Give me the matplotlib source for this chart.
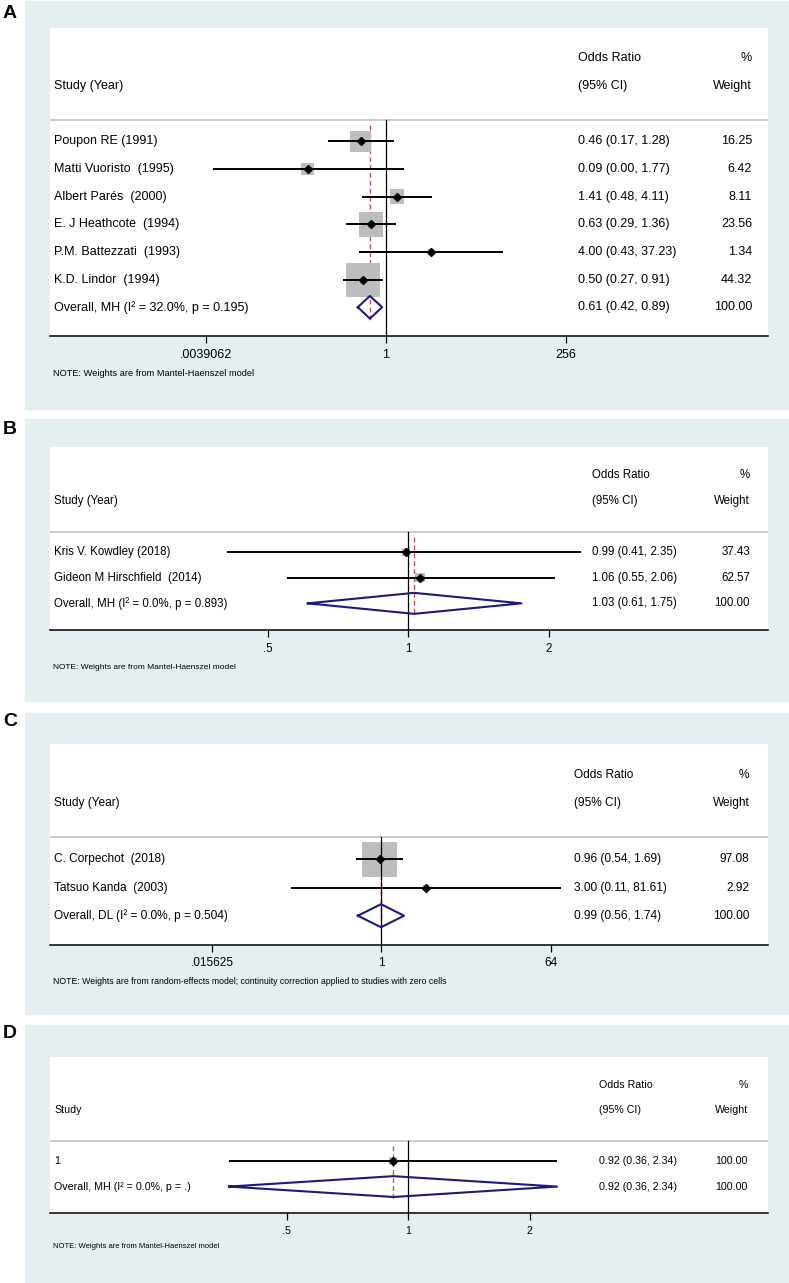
import numpy as np
import matplotlib.pyplot as plt
from matplotlib.ticker import NullLocator

plt.rcParams['font.family'] = ['Liberation Sans', 'DejaVu Sans']

W, H = 789, 1283

# ---- panel A
a_studies = ["Poupon RE (1991)", "Matti Vuoristo  (1995)", "Albert Parés  (2000)",
             "E. J Heathcote  (1994)", "P.M. Battezzati  (1993)", "K.D. Lindor  (1994)"]
a_or = [0.46, 0.09, 1.41, 0.63, 4.00, 0.50]
a_lo = [0.17, 0.0049, 0.48, 0.29, 0.43, 0.27]
a_hi = [1.28, 1.77, 4.11, 1.36, 37.23, 0.91]
a_wt = [16.25, 6.42, 8.11, 23.56, 1.34, 44.32]
a_overall = [0.61, 0.42, 0.89]
a_overall_label = "Overall, MH (I² = 32.0%, p = 0.195)"
a_ticks = [2 ** -8, 1, 256]
a_ticklabels = [".0039062", "1", "256"]
a_note = "NOTE: Weights are from Mantel-Haenszel model"

# ---- panel B
b_studies = ["Kris V. Kowdley (2018)", "Gideon M Hirschfield  (2014)"]
b_or = [0.99, 1.06]
b_lo = [0.41, 0.55]
b_hi = [2.35, 2.06]
b_wt = [37.43, 62.57]
b_overall = [1.03, 0.61, 1.75]
b_overall_label = "Overall, MH (I² = 0.0%, p = 0.893)"
b_ticks = [0.5, 1, 2]
b_ticklabels = [".5", "1", "2"]
b_note = "NOTE: Weights are from Mantel-Haenszel model"

# ---- panel C
c_studies = ["C. Corpechot  (2018)", "Tatsuo Kanda  (2003)"]
c_or = [0.96, 3.00]
c_lo = [0.54, 0.11]
c_hi = [1.69, 81.61]
c_wt = [97.08, 2.92]
c_overall = [0.99, 0.56, 1.74]
c_overall_label = "Overall, DL (I² = 0.0%, p = 0.504)"
c_ticks = [2 ** -6, 1, 64]
c_ticklabels = [".015625", "1", "64"]
c_note = ("NOTE: Weights are from random-effects model; continuity correction "
          "applied to studies with zero cells")

# ---- panel D
d_studies = ["1"]
d_or = [0.92]
d_lo = [0.36]
d_hi = [2.34]
d_wt = [100.00]
d_overall = [0.92, 0.36, 2.34]
d_overall_label = "Overall, MH (I² = 0.0%, p = .)"
d_ticks = [0.5, 1, 2]
d_ticklabels = [".5", "1", "2"]
d_note = "NOTE: Weights are from Mantel-Haenszel model"

BG = '#e5eef1'
BOX = '#bdbdbd'
NAVY = '#1a1a80'
RED = '#c8505a'

fig = plt.figure(figsize=(W / 100, H / 100), dpi=100)


def fx(x):
    return x / W


def fy(y):
    return 1 - y / H


def panel(letter, studies, ors, los, his, wts, overall, overall_label, ticks, ticklabels,
          note, header, bg, white, xl, fs, or_x, wt_x, maxbox, note_fs, note_y, letter_y):
    # grey frame behind the plot
    fig.patches.append(plt.Rectangle((fx(25), fy(bg[1])), fx(789 - 25), (bg[1] - bg[0]) / H,
                                     transform=fig.transFigure, color=BG, zorder=-5))
    fig.text(fx(10), fy(letter_y), letter, fontsize=14, fontweight='bold',
             ha='center', va='center')

    ax = fig.add_axes([fx(50), fy(white[1]), fx(768 - 50), (white[1] - white[0]) / H])
    ax.set_zorder(2)
    ax.set_facecolor('white')
    n = len(studies) + 1
    ax.set_xscale('log', base=2)
    ax.set_xlim(2 ** xl[0], 2 ** xl[1])
    ax.set_ylim(n + 0.04, -4.1)
    ax.set_yticks([])
    ax.xaxis.set_minor_locator(NullLocator())
    ax.set_xticks(ticks, ticklabels)
    ax.tick_params(axis='x', length=5, width=0.9, labelsize=fs, pad=4)
    for s in ['top', 'left', 'right']:
        ax.spines[s].set_visible(False)
    ax.spines['bottom'].set_linewidth(1.1)

    tr = ax.get_yaxis_transform()
    # header
    ax.text(0.006, -2, header, transform=tr, fontsize=fs, va='center')
    ax.text(or_x, -3, "Odds Ratio", transform=tr, fontsize=fs, va='center')
    ax.text(or_x, -2, "(95% CI)", transform=tr, fontsize=fs, va='center')
    ax.text(wt_x, -3, "%", transform=tr, fontsize=fs, va='center', ha='right')
    ax.text(wt_x, -2, "Weight", transform=tr, fontsize=fs, va='center', ha='right')
    ax.axhline(-0.78, color='#c8c8c8', lw=1.3)

    ys = np.arange(len(studies))
    side = maxbox * np.sqrt(np.array(wts) / max(wts)) * 0.72
    ax.scatter(ors, ys, s=side ** 2, marker='s', color=BOX, zorder=2, linewidths=0)
    ax.hlines(ys, los, his, color='black', lw=1.4, zorder=3)
    ax.plot(ors, ys, 'D', color='black', ms=4, zorder=4)
    for y, name, o, lo, hi, w in zip(ys, studies, ors, los, his, wts):
        ax.text(0.006, y, name, transform=tr, fontsize=fs, va='center')
        ax.text(or_x, y, f"{o:.2f} ({lo:.2f}, {hi:.2f})", transform=tr, fontsize=fs, va='center')
        ax.text(wt_x, y, f"{w:.2f}", transform=tr, fontsize=fs, va='center', ha='right')

    # overall
    yo = n - 1
    est, lo, hi = overall
    ax.plot([1, 1], [-0.78, n + 0.1], color='black', lw=0.9, zorder=5)
    ax.plot([est, est], [-0.6, yo + 0.5], color=RED, lw=1.0, dashes=(3.5, 2.2), zorder=1)
    ax.plot([lo, est, hi, est, lo], [yo, yo - 0.41, yo, yo + 0.41, yo],
            color=NAVY, lw=1.5, zorder=6)
    ax.text(0.006, yo, overall_label, transform=tr, fontsize=fs, va='center')
    ax.text(or_x, yo, f"{est:.2f} ({lo:.2f}, {hi:.2f})", transform=tr, fontsize=fs, va='center')
    ax.text(wt_x, yo, "100.00", transform=tr, fontsize=fs, va='center', ha='right')

    fig.text(fx(53), fy(note_y), note, fontsize=note_fs, va='center')


panel("A", a_studies, a_or, a_lo, a_hi, a_wt, a_overall, a_overall_label, a_ticks,
      a_ticklabels, a_note, "Study (Year)", (1, 409), (28, 336), (-14.93, 16.98),
      9, 0.735, 0.978, 34, 6.7, 373, 13)
panel("B", b_studies, b_or, b_lo, b_hi, b_wt, b_overall, b_overall_label, b_ticks,
      b_ticklabels, b_note, "Study (Year)", (419, 701), (447, 630), (-2.548, 2.562),
      8.3, 0.755, 0.975, 9.5, 6.0, 667, 429)
panel("C", c_studies, c_or, c_lo, c_hi, c_wt, c_overall, c_overall_label, c_ticks,
      c_ticklabels, c_note, "Study (Year)", (713, 1014), (744, 945), (-11.73, 13.68),
      8.6, 0.730, 0.974, 35, 6.3, 982, 722)
panel("D", d_studies, d_or, d_lo, d_hi, d_wt, d_overall, d_overall_label, d_ticks,
      d_ticklabels, d_note, "Study", (1025, 1283), (1057, 1213), (-2.947, 2.963),
      7.7, 0.765, 0.972, 7.5, 5.5, 1247, 1034)

fig.savefig("out.png", dpi=100, facecolor='white')
